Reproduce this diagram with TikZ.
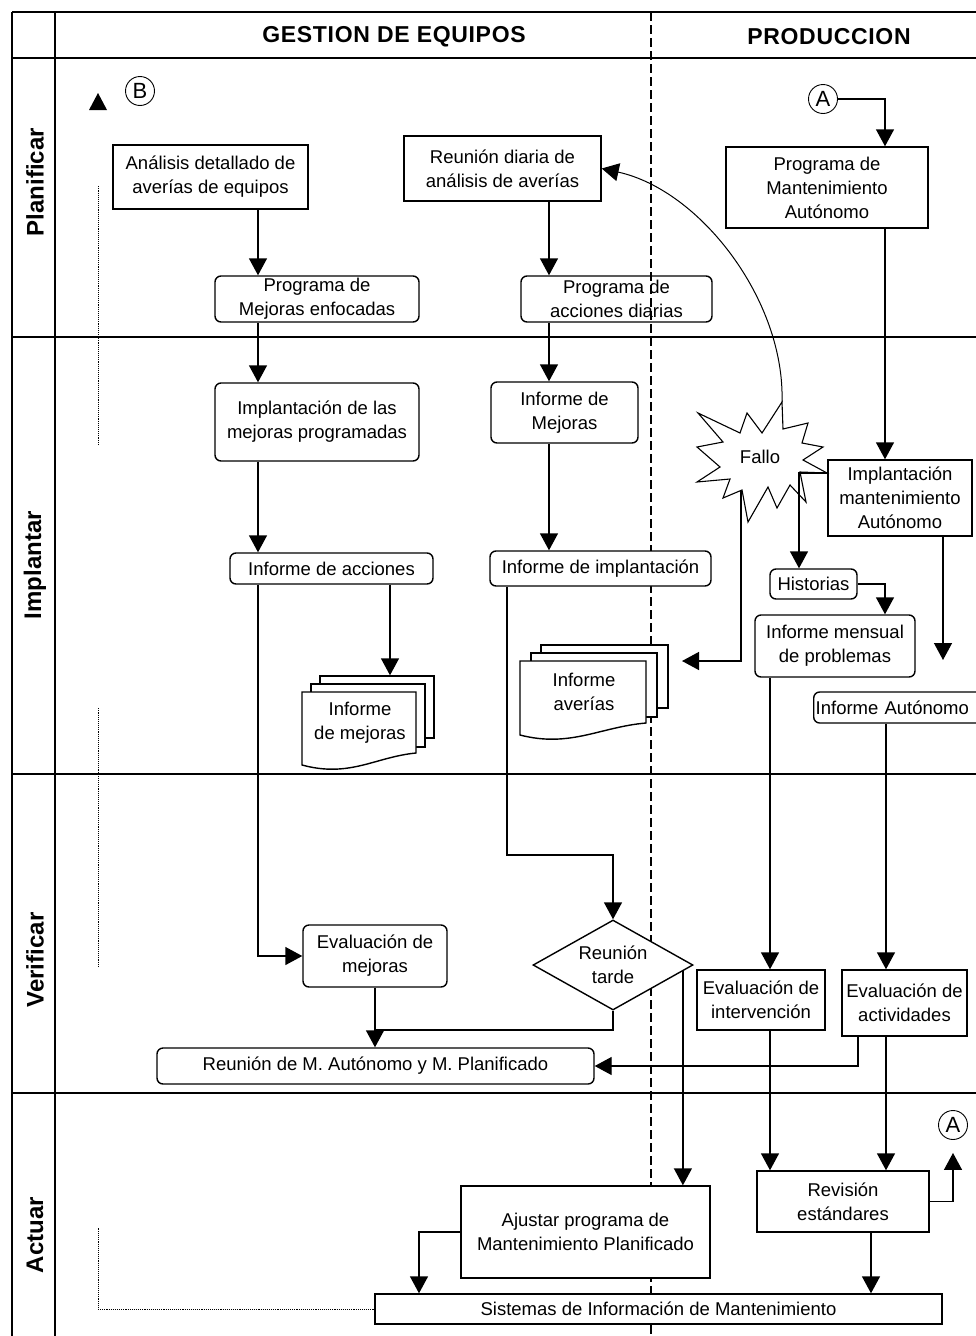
\documentclass[tikz,border=0pt]{standalone}
\usepackage{fontspec}
\setmainfont{Liberation Sans}
\usetikzlibrary{arrows.meta,shapes.geometric}

\begin{document}
\begin{tikzpicture}[x=1pt, y=-1pt, line width=1.4pt,
        >={Triangle[width=18pt,length=17pt]},
        texto/.style={align=center, inner sep=0pt, font=\fontsize{18.5}{24}\selectfont},
        caja/.style={texto, draw, fill=white},
        redonda/.style={caja, rounded corners=6pt},
        circulo/.style={draw, circle, line width=0.9pt, minimum size=29pt, inner sep=0pt, font=\fontsize{22}{22}\selectfont},
        carril/.style={rotate=90, font=\bfseries\fontsize{24}{24}\selectfont},
        titulo/.style={font=\bfseries\fontsize{23}{23}\selectfont\addfontfeature{LetterSpace=3}},
        puntos/.style={densely dotted, line width=0.9pt}]
            \useasboundingbox ( 0, 0 ) rectangle ( 976, 1336 );
            % рамка
            \draw [line width=1.8pt] ( 12, 12 ) -- ( 976, 12 );
            \draw [line width=1.8pt] ( 12, 58 ) -- ( 976, 58 );
            \draw [line width=1.8pt] ( 12, 337 ) -- ( 976, 337 );
            \draw [line width=1.8pt] ( 12, 774 ) -- ( 976, 774 );
            \draw [line width=1.8pt] ( 12, 1093 ) -- ( 976, 1093 );
            \draw [line width=1.8pt] ( 12, 12 ) -- ( 12, 1336 );
            \draw [line width=1.8pt] ( 55, 12 ) -- ( 55, 1336 );
            \draw [dash pattern=on 9pt off 4pt] ( 651, 12 ) -- ( 651, 1336 );

            % заголовки
            \node [titulo] (gestion) at ( 394, 37 ) {GESTION DE EQUIPOS};
            \node [titulo] (produccion) at ( 829, 37 ) {PRODUCCION};
            \node [carril] (planificar) at ( 35, 182 ) {Planificar};
            \node [carril] (implantar) at ( 35, 565 ) {Implantar};
            \node [carril] (verificar) at ( 35, 960 ) {Verificar};
            \node [carril] (actuar) at ( 35, 1235 ) {Actuar};

            % соединители
            \node [circulo] (bcirculo) at ( 140, 91 ) {B};
            \node [circulo] (aarriba) at ( 823, 99 ) {A};
            \node [circulo] (aabajo) at ( 953, 1125 ) {A};

            % планирование
            \node [caja, minimum width=195pt, minimum height=64pt] (analisis) at ( 210.5, 177 ) {Análisis detallado de\\averías de equipos};
            \node [redonda, minimum width=204pt, minimum height=46pt] (progmejoras) at ( 317, 299 ) {Programa de\\Mejoras enfocadas};
            \node [caja, minimum width=197pt, minimum height=65pt] (reunion) at ( 502.5, 168.5 ) {Reunión diaria de\\análisis de averías};
            \node [redonda, fill=none, minimum width=191pt, minimum height=46pt] (progacciones) at ( 616.5, 299 ) {Programa de\\acciones diarias};
            \node [caja, minimum width=202pt, minimum height=81pt] (progautonomo) at ( 827, 187.5 ) {Programa de\\Mantenimiento\\Autónomo};

            % внедрение
            \node [redonda, minimum width=204pt, minimum height=78pt] (implmejoras) at ( 317, 422 ) {Implantación de las\\mejoras programadas};
            \node [redonda, minimum width=147pt, minimum height=61pt] (infmejoras) at ( 564.5, 412.5 ) {Informe de\\Mejoras};
            \node [redonda, minimum width=203pt, minimum height=31pt] (infacciones) at ( 331.5, 568.5 ) {Informe de acciones};
            \node [redonda, minimum width=221pt, minimum height=35pt] (infimplant) at ( 600.5, 568.5 ) {Informe de implantación};
            \node [caja, minimum width=144pt, minimum height=76pt] (implautonomo) at ( 900, 498 ) {Implantación\\mantenimiento\\Autónomo};
            \node [redonda, minimum width=87pt, minimum height=30pt] (historias) at ( 813.5, 584 ) {Historias};
            \node [redonda, minimum width=160pt, minimum height=62pt] (infmensual) at ( 835, 646 ) {Informe mensual\\de problemas};
            \node [redonda, anchor=west, minimum height=31pt, inner xsep=2pt, text width=170pt, align=left] (infautonomo) at ( 813, 707.5 ) {Informe Autónomo};

            % документы
            \node [caja, minimum width=114pt, minimum height=62pt] (mejoras3) at ( 377, 707 ) {};
            \node [caja, minimum width=114pt, minimum height=63pt] (mejoras2) at ( 368, 715.5 ) {};
            \draw [fill=white] ( 302, 692 ) -- ( 416, 692 ) -- ( 416, 753 ) .. controls ( 375, 757 ) and ( 350, 778 ) .. ( 302, 765 ) -- cycle;
            \node [texto] (infdemejoras) at ( 360, 723 ) {Informe\\de mejoras};
            \node [caja, minimum width=127pt, minimum height=63pt] (averias3) at ( 604.5, 676.5 ) {};
            \node [caja, minimum width=126pt, minimum height=64pt] (averias2) at ( 594, 685 ) {};
            \draw [fill=white] ( 520, 661 ) -- ( 646, 661 ) -- ( 646, 723 ) .. controls ( 600, 727 ) and ( 570, 748 ) .. ( 520, 735 ) -- cycle;
            \node [texto] (infaverias) at ( 584, 692 ) {Informe\\averías};

            % сбой
            \draw [line width=1.1pt] ( 698, 413 ) -- ( 740, 433 ) -- ( 747, 413 ) -- ( 762, 433 ) -- ( 782, 402 ) -- ( 783, 429 ) -- ( 808, 423 ) -- ( 802, 443 ) -- ( 823, 447 ) -- ( 803, 460 ) -- ( 827, 473 ) -- ( 800, 472 ) -- ( 806, 502 ) -- ( 790, 485 ) -- ( 777, 508 ) -- ( 768, 487 ) -- ( 748, 522 ) -- ( 742, 490 ) -- ( 723, 498 ) -- ( 730, 479 ) -- ( 697, 482 ) -- ( 720, 467 ) -- ( 697, 447 ) -- ( 723, 442 ) -- cycle;
            \node [texto] (fallo) at ( 760, 457 ) {Fallo};
            \coordinate (puntafallo) at ( 782, 402 );
            \coordinate (bajofallo) at ( 741, 490 );
            \coordinate (flechaaverias) at ( 682, 661 );
            \coordinate (flechaautonomo) at ( 943, 660 );

            % проверка
            \node [redonda, minimum width=144pt, minimum height=62pt] (evmejoras) at ( 375, 956 ) {Evaluación de\\mejoras};
            \node [redonda, minimum width=437pt, minimum height=36pt] (reunionmp) at ( 375.5, 1066 ) {Reunión de M. Autónomo y M. Planificado};
            \node [caja, diamond, aspect=1.78, minimum width=160pt, minimum height=90pt] (tarde) at ( 613, 965 ) {Reunión\\tarde};
            \node [caja, minimum width=128pt, minimum height=60pt] (evinterv) at ( 761, 1000 ) {Evaluación de\\intervención};
            \node [caja, minimum width=125pt, minimum height=66pt] (evactiv) at ( 904.5, 1003 ) {Evaluación de\\actividades};

            % действие
            \node [caja, minimum width=249pt, minimum height=92pt] (ajustar) at ( 585.5, 1232 ) {Ajustar programa de\\Mantenimiento Planificado};
            \node [caja, minimum width=172pt, minimum height=61pt] (revision) at ( 843, 1201.5 ) {Revisión\\estándares};
            \node [caja, minimum width=567pt, minimum height=30pt] (sistemas) at ( 658.5, 1309 ) {Sistemas de Información de Mantenimiento};

            % стрелки
            \draw [->] (aarriba.east) -| (progautonomo.north -| 885,0);
            \draw [->] (analisis.south -| 258,0) -- (progmejoras.north -| 258,0);
            \draw [->] (reunion.south -| 549,0) -- (progacciones.north -| 549,0);
            \draw [->] (progautonomo.south -| 885,0) -- (implautonomo.north -| 885,0);
            \draw [->] (progmejoras.south -| 258,0) -- (implmejoras.north -| 258,0);
            \draw [->] (progacciones.south -| 549,0) -- (infmejoras.north -| 549,0);
            \draw [->] (implmejoras.south -| 258,0) -- (infacciones.north -| 258,0);
            \draw [->] (infmejoras.south -| 549,0) -- (infimplant.north -| 549,0);
            \draw [->] (infacciones.south -| 390,0) -- (mejoras3.north -| 390,0);
            \draw [->, line width=1pt] (puntafallo) .. controls ( 785, 300 ) and ( 700, 190 ) .. (reunion.east);
            \draw [->] (bajofallo) |- (flechaaverias);
            \draw [->] (implautonomo.west |- 0,473) -| (historias.north -| 799,0);
            \draw [->] (historias.east) -| (infmensual.north -| 885,0);
            \draw [->] (implautonomo.south -| 943,0) -- (flechaautonomo);
            \draw [->] (infacciones.south -| 258,0) |- (evmejoras.west);
            \draw [->] (infimplant.south -| 507,0) |- (tarde.north |- 0,855) -- (tarde.north);
            \draw [->] (evmejoras.south) -- (evmejoras.south |- reunionmp.north);
            \draw (tarde.south) |- (evmejoras.south |- 0,1030);
            \draw [->] (tarde.-5) -- (tarde.-5 |- ajustar.north);
            \draw [->] (ajustar.west) -| (sistemas.north -| 419,0);
            \draw [->] (infmensual.south -| 770,0) -- (evinterv.north -| 770,0);
            \draw [->] (infautonomo.south -| 886,0) -- (evactiv.north -| 886,0);
            \draw [->] (evactiv.south -| 858,0) |- (reunionmp.east);
            \draw [->] (evinterv.south -| 770,0) -- (revision.north -| 770,0);
            \draw [->] (evactiv.south -| 886,0) -- (revision.north -| 886,0);
            \draw [->] (revision.east) -| ([yshift=-13pt]aabajo.south);
            \draw [->] (revision.south -| 871,0) -- (sistemas.north -| 871,0);

            % возврат к B
            \draw [puntos] (sistemas.west) -- ( 98, 1309 ) -- ( 98, 1228 );
            \draw [puntos] ( 98, 967 ) -- ( 98, 707 );
            \draw [puntos] ( 98, 445 ) -- ( 98, 185 );
            \fill ( 89, 110 ) -- ( 107, 110 ) -- ( 98, 93 ) -- cycle;
        \end{tikzpicture}
\end{document}
